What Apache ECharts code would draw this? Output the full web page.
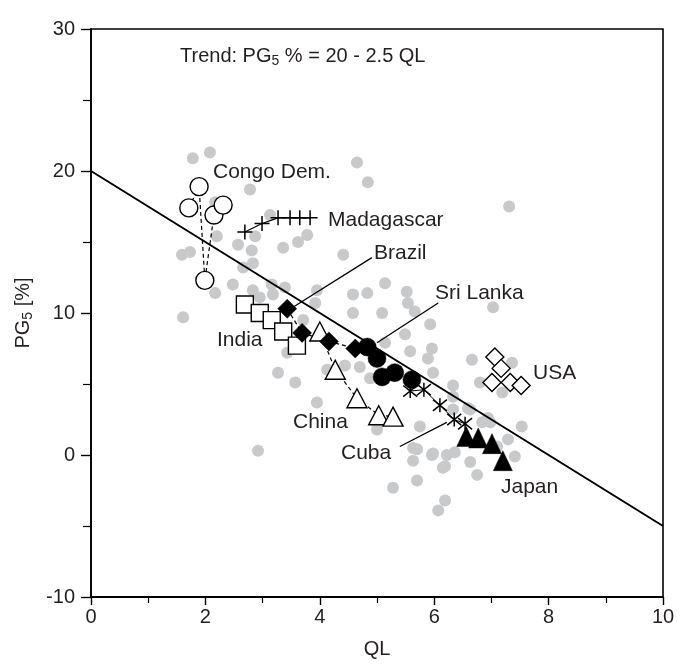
<!DOCTYPE html>
<html><head><meta charset="utf-8">
<script src="https://cdn.jsdelivr.net/npm/echarts@6/dist/echarts.min.js"></script>
<style>html,body{margin:0;padding:0;background:#fff}#c{width:686px;height:667px}</style>
</head><body><div id="c"></div>
<script>
// ---- data ----
const xTickLabels = [0, 2, 4, 6, 8, 10];
const yTickLabels = [-10, 0, 10, 20, 30];
const trendLine = [[0, 20], [10, -5]];
const greyDots = [
 [1.78,20.9],[2.08,21.3],[2.78,18.7],[4.65,20.6],[4.84,19.2],[7.31,17.5],[2.17,17.8],[3.13,16.9],
 [2.20,15.4],[2.57,14.8],[2.87,15.4],[2.81,14.4],[3.36,14.6],[3.62,15.0],[3.78,15.5],[1.59,14.1],
 [1.73,14.3],[2.66,13.2],[2.83,13.5],[4.41,14.1],[1.61,9.7],[2.17,11.4],[2.48,12.0],[2.83,11.6],
 [3.16,12.0],[3.39,11.8],[3.18,11.3],[2.95,11.1],[3.71,9.5],[3.43,7.2],[3.27,5.8],[3.57,5.1],
 [3.95,3.7],[2.92,0.3],[5.14,12.1],[4.58,11.3],[4.83,11.4],[5.52,11.5],[5.54,10.7],[5.66,10.1],
 [4.58,10.0],[5.09,10.0],[7.03,10.4],[5.93,9.2],[5.49,8.5],[5.14,7.9],[5.58,7.3],[5.96,7.5],
 [5.89,6.8],[6.66,6.7],[7.36,6.5],[4.13,6.0],[4.44,6.3],[4.70,6.2],[4.88,5.4],[5.98,5.8],
 [6.33,4.9],[3.92,10.7],[3.95,11.6],[6.80,5.1],[7.19,4.4],[6.33,4.1],[6.59,3.3],[6.94,2.6],
 [7.53,2.0],[5.75,2.0],[7.29,1.1],[7.41,-0.1],[7.10,0.6],[5.63,0.5],[5.98,0.1],[6.36,0.2],
 [6.63,-0.5],[6.19,-0.8],[5.00,1.8],[6.33,3.2],[6.63,3.2],[6.84,2.3],[6.98,2.3],[5.70,0.4],
 [5.96,0.0],[6.22,0.0],[5.63,-0.4],[6.15,-0.9],[6.75,-1.4],[5.70,-1.8],[5.28,-2.3],[6.19,-3.2],
 [6.07,-3.9]
];
const congo = [[1.71,17.4],[1.89,18.9],[1.99,12.3],[2.15,16.9],[2.31,17.6]];
const madagascar = [[2.69,15.7],[2.99,16.3],[3.27,16.7],[3.48,16.7],[3.65,16.7],[3.83,16.7]];
const brazil = [[3.43,10.3],[3.69,8.6],[4.16,8.0],[4.62,7.5]];
const sriLanka = [[4.83,7.6],[5.00,6.8],[5.09,5.5],[5.31,5.8],[5.61,5.3]];
const india = [[2.69,10.6],[2.95,10.0],[3.16,9.5],[3.36,8.7],[3.60,7.7]];
const china = [[4.00,8.7],[4.27,6.0],[4.65,4.0],[5.03,2.8],[5.28,2.7]];
const cuba = [[5.58,4.5],[5.82,4.6],[6.10,3.5],[6.35,2.5],[6.54,2.2]];
const japan = [[6.56,1.3],[6.77,1.2],[7.01,0.8],[7.20,-0.4]];
const usa = [[7.06,6.9],[7.17,6.1],[7.01,5.1],[7.33,5.1],[7.52,4.9]];
const pointerBrazil = [[3.53,10.4],[4.91,13.9]];
const pointerSriLanka = [[5.00,7.9],[6.07,10.7]];
const pointerCuba = [[5.40,0.6],[6.22,2.3]];

// ---- styles ----
const FONT = '"Liberation Sans", Arial, sans-serif';
const TXT = '#231f20';
const LFS = 21;
const openStyle = {color:'#fff', borderColor:'#000', borderWidth:1.4, opacity:1};
const fillStyle = {color:'#000', borderColor:'#000', borderWidth:0.5, opacity:1};
const dashed = {color:'#000', width:1.2, type:[4,3]};
const PLUS = 'path://M0,5L10,5M5,0L5,10';
const ASTER = 'path://M1,1L9,9M9,1L1,9M5,0L5,10';

function marks(name, data, symbol, size, style, line) {
  return {
    type: line ? 'line' : 'scatter', name, data, symbol, symbolSize: size,
    itemStyle: style, lineStyle: line || undefined, showSymbol: true,
    animation:false, z: 5, emphasis:{disabled:true}
  };
}
function pointer(data) {
  return {type:'line', data, symbol:'none', lineStyle:{color:'#000', width:1.3}, z:4, animation:false, silent:true};
}

const chart = echarts.init(document.getElementById('c'), null, {renderer:'canvas'});
const label = (t, x, y) => ({type:'text', x, y, style:{text:t, font:LFS+'px '+FONT, fill:TXT, align:'left', verticalAlign:'middle'}, z:20});

chart.setOption({
  animation:false,
  grid:{left:91, right:23, top:29, bottom:70, show:true, borderColor:'#000', borderWidth:1.6, backgroundColor:'transparent'},
  xAxis:{
    type:'value', min:0, max:10, interval:2,
    name:'QL', nameLocation:'middle', nameGap:42,
    nameTextStyle:{fontFamily:FONT, fontSize:20, color:TXT},
    axisLine:{show:true, onZero:false, lineStyle:{color:'#000', width:1.8}},
    axisTick:{show:true, inside:false, length:8, lineStyle:{color:'#000', width:1.4}},
    minorTick:{show:true, splitNumber:2, length:6, lineStyle:{color:'#000', width:1.2}},
    splitLine:{show:false},
    axisLabel:{fontFamily:FONT, fontSize:20, color:TXT, margin:10,
      formatter: v => xTickLabels.includes(v) ? String(v) : ''}
  },
  yAxis:{
    type:'value', min:-10, max:30, interval:10,
    name:'{a|PG}{s|5}{a| [%]}', nameLocation:'middle', nameGap:56, nameRotate:90,
    nameTextStyle:{fontFamily:FONT, fontSize:20, color:TXT,
      rich:{a:{fontFamily:FONT, fontSize:20, color:TXT}, s:{fontFamily:FONT, fontSize:14, color:TXT, padding:[10,0,0,0]}}},
    axisLine:{show:true, onZero:false, lineStyle:{color:'#000', width:1.8}},
    axisTick:{show:true, inside:false, length:10, lineStyle:{color:'#000', width:1.4}},
    minorTick:{show:true, splitNumber:2, length:8, lineStyle:{color:'#000', width:1.2}},
    splitLine:{show:false},
    axisLabel:{fontFamily:FONT, fontSize:20, color:TXT, margin:16,
      formatter: v => yTickLabels.includes(v) ? String(v) : ''}
  },
  series:[
    {type:'scatter', data:greyDots, symbol:'circle', symbolSize:12, itemStyle:{color:'#c8c9cb', opacity:1}, z:1, animation:false, silent:true},
    {type:'line', data:trendLine, symbol:'none', lineStyle:{color:'#000', width:2}, z:3, animation:false, silent:true},
    pointer(pointerBrazil), pointer(pointerSriLanka), pointer(pointerCuba),
    marks('Congo Dem.', congo, 'circle', 18, openStyle, dashed),
    marks('Madagascar', madagascar, PLUS, 15, {color:'none', borderColor:'#000', borderWidth:1.5, opacity:1}, {color:'#000', width:1.2}),
    marks('China', china, 'triangle', [20,19], openStyle, dashed),
    marks('India', india, 'rect', 17, openStyle, null),
    marks('Brazil', brazil, 'diamond', 19, fillStyle, dashed),
    marks('Sri Lanka', sriLanka, 'circle', 18, fillStyle, null),
    marks('Cuba', cuba, ASTER, 14, {color:'none', borderColor:'#000', borderWidth:1.5, opacity:1}, {color:'#000', width:1}),
    marks('Japan', japan, 'triangle', [19,20], fillStyle, null),
    marks('USA', usa, 'diamond', 18, openStyle, null)
  ],
  graphic:[
    {type:'text', x:180, y:56, style:{
      text:'{a|Trend: PG}{s|5}{a| % = 20 - 2.5 QL}',
      rich:{a:{fontFamily:FONT, fontSize:20, fill:TXT, color:TXT}, s:{fontFamily:FONT, fontSize:14, fill:TXT, color:TXT, padding:[10,0,0,0]}},
      align:'left', verticalAlign:'middle'}, z:20},
    label('Congo Dem.', 213, 172),
    label('Madagascar', 328, 220),
    label('Brazil', 374, 253),
    label('Sri Lanka', 435, 293),
    label('India', 217, 340),
    label('USA', 533, 373),
    label('China', 293, 422),
    label('Cuba', 341, 453),
    label('Japan', 501, 487)
  ]
});
</script></body></html>
